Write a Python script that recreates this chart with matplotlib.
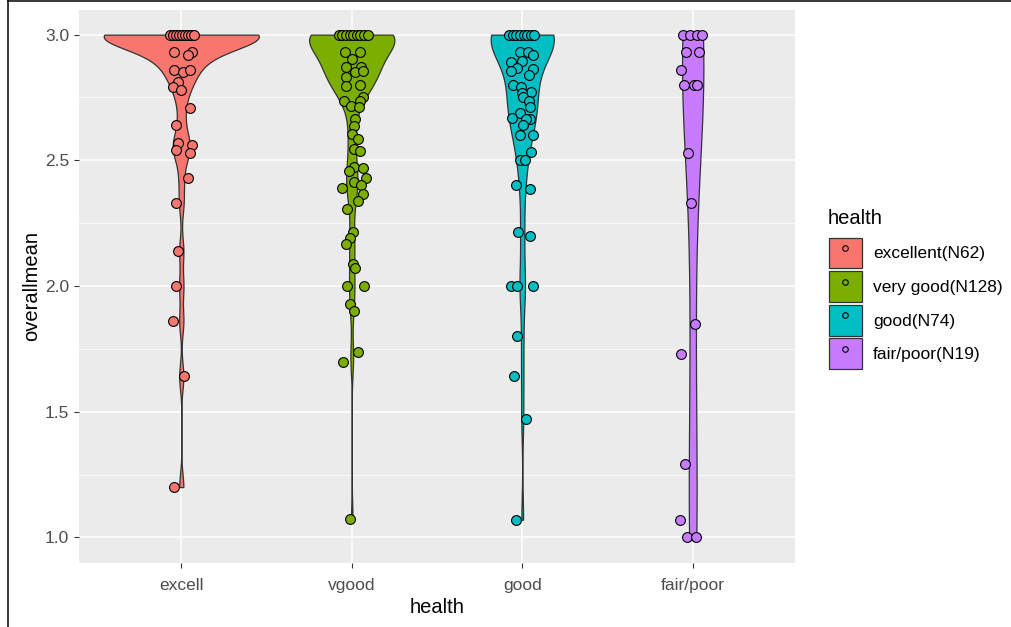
import numpy as np
import matplotlib
matplotlib.use("Agg")
import matplotlib.pyplot as plt
from matplotlib.patches import Patch
from matplotlib.lines import Line2D

plt.rcParams["font.family"] = ["Liberation Sans", "DejaVu Sans"]

categories = ["excell", "vgood", "good", "fair/poor"]
legend_labels = ["excellent(N62)", "very good(N128)", "good(N74)", "fair/poor(N19)"]
colors = ["#F8766D", "#7CAE00", "#00BFC4", "#C77CFF"]

# plotted (jittered) responses: overallmean value and horizontal jitter
excell_y = [3.0] * 9 + [2.93, 2.93, 2.92, 2.86, 2.85, 2.86, 2.81, 2.79, 2.78, 2.71,
                        2.64, 2.57, 2.56, 2.54, 2.53, 2.43, 2.33, 2.14, 2.0, 1.86,
                        1.64, 1.2]
excell_dx = [-0.064, -0.047, -0.03, -0.012, 0.006, 0.023, 0.041, 0.058, 0.076,
             -0.04, 0.064, 0.04, -0.04, 0.012, 0.052, -0.017, -0.047, 0.0, 0.052,
             -0.029, -0.017, 0.064, -0.029, 0.052, 0.04, -0.029, -0.017, -0.029,
             -0.047, 0.017, -0.04]
# repeated responses hidden under the markers above
excell_dup = [3.0] * 25 + [2.95] * 2 + [2.92] * 2 + [2.88] * 2

vgood_y = [3.0] * 9 + [2.93, 2.93, 2.905, 2.87, 2.87, 2.85, 2.855, 2.83, 2.795, 2.8,
                       2.752, 2.736, 2.736, 2.716, 2.714, 2.666, 2.637, 2.604, 2.584,
                       2.544, 2.538, 2.472, 2.468, 2.459, 2.43, 2.415, 2.402, 2.389,
                       2.366, 2.34, 2.307, 2.215, 2.19, 2.168, 2.089, 2.072, 2.0, 2.0,
                       1.928, 1.902, 1.737, 1.696, 1.072]
vgood_dx = [-0.076, -0.055, -0.034, -0.013, 0.008, 0.029, 0.05, 0.071, 0.093,
            -0.041, 0.047, 0.0, -0.035, 0.052, 0.017, 0.064, -0.035, -0.035, 0.047,
            0.064, -0.047, 0.047, -0.006, 0.041, 0.017, 0.012, 0.0, 0.035, 0.012,
            0.047, 0.012, 0.064, -0.017, 0.082, 0.012, 0.052, -0.058, 0.064, 0.035,
            -0.029, 0.006, -0.012, -0.035, 0.006, 0.017, -0.029, 0.07, -0.012,
            0.012, 0.035, -0.052, -0.012]
vgood_dup = [3.0] * 39 + [2.93] * 11 + [2.87] * 14 + [2.8] * 12

good_y = [3.0] * 8 + [2.93, 2.93, 2.92, 2.897, 2.89, 2.868, 2.865, 2.855, 2.84, 2.8,
                      2.79, 2.77, 2.766, 2.75, 2.736, 2.714, 2.69, 2.667, 2.666, 2.666,
                      2.64, 2.6, 2.6, 2.535, 2.5, 2.5, 2.4, 2.386, 2.215, 2.2, 2.0,
                      2.0, 2.0, 1.8, 1.643, 1.47, 1.07]
good_dx = [-0.076, -0.055, -0.034, -0.013, 0.008, 0.029, 0.05, 0.07,
           -0.012, 0.035, 0.064, 0.0, -0.064, -0.029, 0.064, -0.064, 0.041, -0.052,
           -0.006, 0.052, 0.0, 0.006, 0.041, 0.047, -0.012, -0.058, 0.047, 0.023,
           0.006, -0.012, 0.064, 0.052, -0.012, 0.017, -0.035, 0.047, -0.023, 0.047,
           -0.064, -0.029, 0.064, -0.029, -0.047, 0.023, -0.035]
good_dup = [3.0] * 24 + [2.8] + [2.73] * 2 + [2.67] + [2.6]

fair_y = [3.0, 3.0, 3.0, 3.0, 2.93, 2.93, 2.86, 2.8, 2.8, 2.8, 2.53, 2.33, 1.85,
          1.73, 1.29, 1.07, 1.0, 1.0]
fair_dx = [-0.058, -0.017, 0.023, 0.052, -0.041, 0.035, -0.07, -0.052, 0.006, 0.023,
           -0.029, -0.012, 0.012, -0.07, -0.047, -0.076, -0.035, 0.017]
fair_dup = [3.0]

points_y = [excell_y, vgood_y, good_y, fair_y]
points_dx = [excell_dx, vgood_dx, good_dx, fair_dx]
dups = [excell_dup, vgood_dup, good_dup, fair_dup]

# violin widths (scale = "area" in the original ggplot)
violin_widths = [0.91, 0.5, 0.37, 0.125]


def nrd0(kde):
    # R's default bandwidth rule, returned as a factor of the sample sd
    x = kde.dataset.ravel()
    sd = x.std(ddof=1)
    q1, q3 = np.percentile(x, [25, 75])
    lo = min(sd, (q3 - q1) / 1.34)
    if lo == 0:
        lo = sd
    return 0.9 * lo * len(x) ** -0.2 / sd


samples = [np.array(p + d) for p, d in zip(points_y, dups)]
pos = np.arange(1, len(categories) + 1)

W, H = 1011, 627
fig = plt.figure(figsize=(W / 100, H / 100), dpi=100)
ax = fig.add_axes([79 / W, 1 - 562.5 / H, (795 - 79) / W, (562.5 - 9.5) / H])
ax.set_facecolor("#EBEBEB")
for s in ax.spines.values():
    s.set_visible(False)

parts = ax.violinplot(samples, positions=pos, widths=violin_widths,
                      showextrema=False, points=512, bw_method=nrd0)
for body, c in zip(parts["bodies"], colors):
    body.set_facecolor(c)
    body.set_edgecolor("#333333")
    body.set_linewidth(0.9)
    body.set_alpha(1)
    body.set_zorder(2)

for i, (ys, dxs, c) in enumerate(zip(points_y, points_dx, colors)):
    ax.scatter(pos[i] + np.array(dxs), ys, s=50, facecolor=c, edgecolor="black",
               linewidth=0.8, zorder=3)

ax.set_xlim(0.4, 4.6)
ax.set_ylim(0.9, 3.1)
ax.set_xticks(pos)
ax.set_xticklabels(categories)
ax.set_yticks([1.0, 1.5, 2.0, 2.5, 3.0])
ax.set_yticklabels(["1.0", "1.5", "2.0", "2.5", "3.0"])
ax.set_yticks([1.25, 1.75, 2.25, 2.75], minor=True)
ax.grid(which="major", color="white", linewidth=1.1)
ax.grid(which="minor", axis="y", color="white", linewidth=0.55)
ax.set_axisbelow(True)
ax.tick_params(which="major", length=3.5, width=0.8, color="#333333",
               labelcolor="#4D4D4D", labelsize=12.5)
ax.tick_params(axis="y", which="major", pad=3.5)
ax.tick_params(axis="x", which="major", pad=7.5)
ax.tick_params(which="minor", length=0)

ax.set_xlabel("health", fontsize=14.5, labelpad=4)
ax.set_ylabel("overallmean", fontsize=14.5, labelpad=3)

# legend: title placed as text, keys below it
fig.text(828 / W, 1 - 224 / H, "health", fontsize=14.5, va="baseline", ha="left")
handles = [(Patch(facecolor=c, edgecolor="#333333", linewidth=0.9),
            Line2D([], [], marker="o", linestyle="none", markersize=4,
                   markerfacecolor=c, markeredgecolor="black", markeredgewidth=0.8))
           for c in colors]
fig.legend(handles, legend_labels, loc="upper left",
           bbox_to_anchor=(829 / W, 1 - 237.5 / H), frameon=False,
           fontsize=12.5, handlelength=1.9, handleheight=2.37,
           labelspacing=0.15, handletextpad=0.62, borderpad=0, borderaxespad=0)

# frame edges of the exported image
fig.add_artist(Line2D([8 / W, 8 / W], [0, 1], transform=fig.transFigure,
                      color="black", linewidth=1.1))
fig.add_artist(Line2D([8 / W, 1], [1 - 0.8 / H, 1 - 0.8 / H],
                      transform=fig.transFigure, color="black", linewidth=1.1))

fig.savefig("out.png", dpi=100)
